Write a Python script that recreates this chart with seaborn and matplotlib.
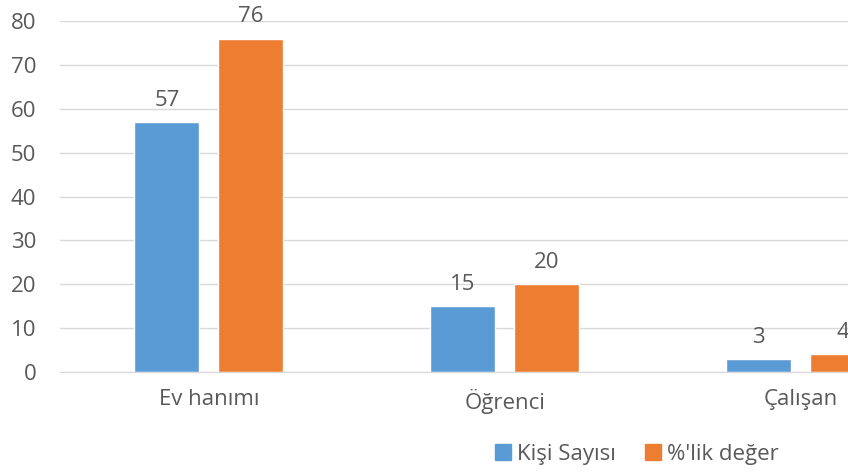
import pandas as pd
import matplotlib
matplotlib.use('Agg')
import matplotlib.pyplot as plt
import seaborn as sns
from matplotlib.patches import Patch

# Values
categories = ['Ev hanımı', 'Öğrenci', 'Çalışan']
kisi_sayisi = [57, 15, 3]
yuzde = [76, 20, 4]
series_names = ['Kişi Sayısı', "%'lik değer"]
colors = ['#5B9BD5', '#ED7D31']

df = pd.DataFrame({
    'kategori': categories * 2,
    'deger': kisi_sayisi + yuzde,
    'seri': [series_names[0]] * 3 + [series_names[1]] * 3,
})

sns.set_style('white')
plt.rcParams['font.family'] = ['Open Sans', 'DejaVu Sans']
text_grey = '#595959'
fs = 16

fig = plt.figure(figsize=(8.48, 4.73), dpi=100)
ax = fig.add_axes([0.0708, 0.2135, 0.9292, 0.7421])

sns.barplot(data=df, x='kategori', y='deger', hue='seri', palette=colors,
            width=0.568, gap=0.226, saturation=1, ax=ax, legend=False)

for c in ax.containers:
    ax.bar_label(c, padding=8, fontsize=fs, color=text_grey)

ax.set_ylim(0, 80)
ax.set_yticks(range(0, 81, 10))
ax.set_xlim(-0.503, 2.16)
ax.yaxis.grid(True, color='#D9D9D9', linewidth=1)
ax.set_axisbelow(True)
for s in ['top', 'right', 'left']:
    ax.spines[s].set_visible(False)
ax.spines['bottom'].set_color('#D9D9D9')
ax.tick_params(axis='y', length=0, labelsize=fs, labelcolor=text_grey, pad=17)
ax.tick_params(axis='x', length=0, labelsize=fs, labelcolor=text_grey, pad=12)
ax.set_xlabel('')
ax.set_ylabel('')

handles = [Patch(color=colors[0], label=series_names[0]),
           Patch(color=colors[1], label=series_names[1])]
leg = fig.legend(handles=handles, loc='lower center', bbox_to_anchor=(637 / 848, -0.025),
                 ncol=2, frameon=False, fontsize=fs, handlelength=0.72, handleheight=0.72,
                 handletextpad=0.27, columnspacing=1.3)
for t in leg.get_texts():
    t.set_color(text_grey)

fig.savefig('out.png', dpi=100)
